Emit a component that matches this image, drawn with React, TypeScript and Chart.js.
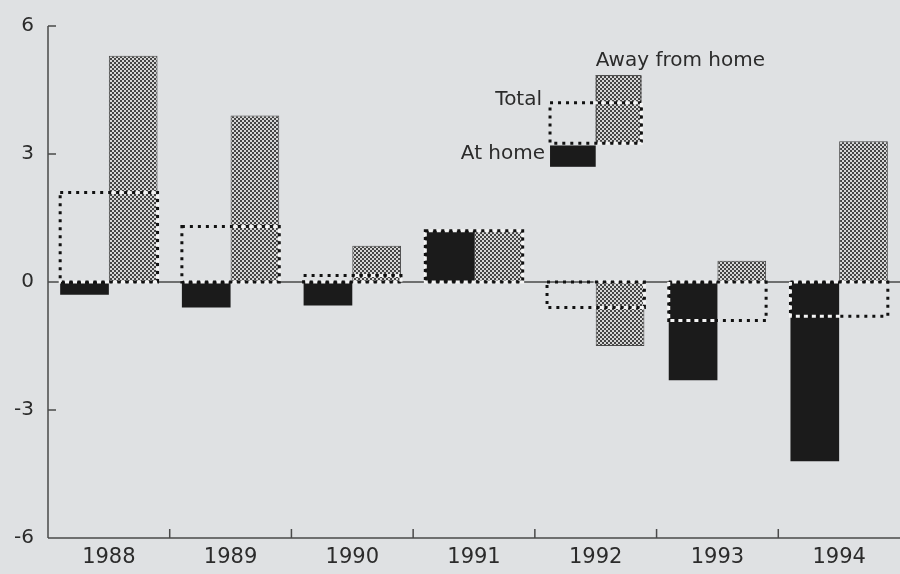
import React, { useEffect, useRef } from "react";
import { Chart, registerables } from "chart.js";

Chart.register(...registerables);

const categories = ["1988", "1989", "1990", "1991", "1992", "1993", "1994"];
const atHome = [-0.3, -0.6, -0.55, 1.2, 0, -2.3, -4.2];
const awayFromHome = [5.3, 3.9, 0.85, 1.2, -1.5, 0.5, 3.3];
const total = [2.1, 1.3, 0.15, 1.2, -0.6, -0.9, -0.8];
const yTicks = [-6, -3, 0, 3, 6];

// key drawn inside the plot, above the 1992 group
const legendCategoryIndex = 4;
const legendAtHomeRange = [2.7, 3.2];
const legendAwayRange = [3.25, 4.85];
const legendTotalRange = [3.25, 4.2];
const legendLabels = { atHome: "At home", away: "Away from home", total: "Total" };

const BG = "#dfe1e3";
const INK = "#2b2b2b";
const AXIS = "#4a4a4a";
const BLACK = "#1b1b1b";
const FONT = "'DejaVu Sans', sans-serif";

function makePattern(): CanvasPattern | string {
  const c = document.createElement("canvas");
  c.width = 4;
  c.height = 4;
  const g = c.getContext("2d");
  if (!g) return "#888";
  g.fillStyle = "#d6d6d6";
  g.fillRect(0, 0, 4, 4);
  g.fillStyle = "#444444";
  g.fillRect(0, 0, 2, 2);
  g.fillRect(2, 2, 2, 2);
  const p = g.createPattern(c, "repeat");
  return p || "#888";
}

type R = { l: number; r: number; t: number; b: number };

function rectOf(el: any): R {
  const p = el.getProps(["x", "y", "base", "width"], true);
  return {
    l: p.x - p.width / 2,
    r: p.x + p.width / 2,
    t: Math.min(p.y, p.base),
    b: Math.max(p.y, p.base),
  };
}

function dashedRect(ctx: CanvasRenderingContext2D, r: R, clips: R[]) {
  ctx.save();
  ctx.lineWidth = 3;
  ctx.setLineDash([3, 5]);
  ctx.strokeStyle = "#111";
  ctx.strokeRect(r.l, r.t, r.r - r.l, r.b - r.t);
  ctx.beginPath();
  for (const c of clips) {
    if (c.b - c.t < 0.5) continue;
    ctx.rect(c.l - 2, c.t - 2, c.r - c.l + 4, c.b - c.t + 4);
  }
  ctx.clip();
  ctx.strokeStyle = "#f4f4f4";
  ctx.setLineDash([4, 4]);
  ctx.lineDashOffset = -3.5;
  ctx.strokeRect(r.l, r.t, r.r - r.l, r.b - r.t);
  ctx.restore();
}

export default function App() {
  const ref = useRef<HTMLCanvasElement | null>(null);

  useEffect(() => {
    document.body.style.margin = "0";
    document.body.style.background = BG;
    const canvas = ref.current;
    if (!canvas) return;
    const pattern = makePattern();

    const axesPlugin = {
      id: "axesPlugin",
      beforeDatasetsDraw(chart: any) {
        const { ctx, chartArea: a, scales } = chart;
        const x = scales.x;
        const y = scales.y;
        ctx.save();
        ctx.strokeStyle = AXIS;
        ctx.lineWidth = 1.5;
        ctx.beginPath();
        ctx.moveTo(a.left, a.top);
        ctx.lineTo(a.left, a.bottom);
        ctx.moveTo(a.left, a.bottom);
        ctx.lineTo(a.right, a.bottom);
        const y0 = y.getPixelForValue(0);
        ctx.moveTo(a.left, y0);
        ctx.lineTo(a.right, y0);
        for (const v of yTicks) {
          if (v === 0 || v === -6) continue;
          const py = y.getPixelForValue(v);
          ctx.moveTo(a.left, py);
          ctx.lineTo(a.left + 8, py);
        }
        for (let i = 0; i < categories.length - 1; i++) {
          const px = (x.getPixelForValue(i) + x.getPixelForValue(i + 1)) / 2;
          ctx.moveTo(px, a.bottom);
          ctx.lineTo(px, a.bottom - 9);
        }
        ctx.stroke();
        ctx.restore();
      },
      afterDatasetsDraw(chart: any) {
        const { ctx, scales } = chart;
        const y = scales.y;
        const totalMeta = chart.getDatasetMeta(0);
        const homeMeta = chart.getDatasetMeta(1);
        const awayMeta = chart.getDatasetMeta(2);
        const barRects: R[] = [
          ...homeMeta.data.map(rectOf),
          ...awayMeta.data.map(rectOf),
        ];
        totalMeta.data.forEach((el: any) => {
          dashedRect(ctx, rectOf(el), barRects);
        });

        const hr = rectOf(homeMeta.data[legendCategoryIndex]);
        const ar = rectOf(awayMeta.data[legendCategoryIndex]);
        const tr = rectOf(totalMeta.data[legendCategoryIndex]);
        const inset = 3;
        const homeBox: R = {
          l: hr.l + inset,
          r: hr.r,
          t: y.getPixelForValue(legendAtHomeRange[1]),
          b: y.getPixelForValue(legendAtHomeRange[0]),
        };
        const awayBox: R = {
          l: ar.l,
          r: ar.r - inset,
          t: y.getPixelForValue(legendAwayRange[1]),
          b: y.getPixelForValue(legendAwayRange[0]),
        };
        const totalBox: R = {
          l: tr.l + inset,
          r: tr.r - inset,
          t: y.getPixelForValue(legendTotalRange[1]),
          b: y.getPixelForValue(legendTotalRange[0]),
        };
        ctx.save();
        ctx.fillStyle = BLACK;
        ctx.fillRect(homeBox.l, homeBox.t, homeBox.r - homeBox.l, homeBox.b - homeBox.t);
        ctx.fillStyle = pattern;
        ctx.fillRect(awayBox.l, awayBox.t, awayBox.r - awayBox.l, awayBox.b - awayBox.t);
        ctx.strokeStyle = AXIS;
        ctx.lineWidth = 1;
        ctx.strokeRect(awayBox.l + 0.5, awayBox.t + 0.5, awayBox.r - awayBox.l - 1, awayBox.b - awayBox.t - 1);
        ctx.restore();
        dashedRect(ctx, totalBox, [awayBox]);

        ctx.save();
        ctx.fillStyle = INK;
        ctx.font = `20px ${FONT}`;
        ctx.textAlign = "left";
        ctx.textBaseline = "alphabetic";
        ctx.fillText(legendLabels.away, awayBox.l, awayBox.t - 9);
        ctx.textAlign = "right";
        ctx.textBaseline = "middle";
        ctx.fillText(legendLabels.total, totalBox.l - 8, totalBox.t - 3);
        ctx.fillText(legendLabels.atHome, homeBox.l - 5, (homeBox.t + homeBox.b) / 2 - 2);
        ctx.restore();
      },
    };

    const chart = new Chart(canvas, {
      type: "bar",
      data: {
        labels: categories,
        datasets: [
          {
            label: legendLabels.total,
            data: total,
            grouped: false,
            backgroundColor: "rgba(0,0,0,0)",
            borderWidth: 0,
            categoryPercentage: 0.8,
            barPercentage: 1,
          } as any,
          {
            label: legendLabels.atHome,
            data: atHome,
            backgroundColor: BLACK,
            borderWidth: 0,
            categoryPercentage: 0.8,
            barPercentage: 1,
          },
          {
            label: legendLabels.away,
            data: awayFromHome,
            backgroundColor: pattern as any,
            borderColor: AXIS,
            borderWidth: 1,
            borderSkipped: false,
            categoryPercentage: 0.8,
            barPercentage: 1,
          },
        ],
      },
      options: {
        responsive: false,
        animation: false,
        devicePixelRatio: 1,
        layout: { padding: { top: 20, left: 0, right: 0, bottom: 0 } },
        plugins: {
          legend: { display: false },
          tooltip: { enabled: false },
          title: { display: false },
        },
        scales: {
          x: {
            grid: { display: false, drawTicks: false },
            border: { display: false },
            ticks: {
              padding: 7,
              color: INK,
              font: { family: FONT, size: 21 },
              maxRotation: 0,
            },
            afterFit: (s: any) => {
              s.height = 36;
            },
          },
          y: {
            min: -6,
            max: 6,
            afterBuildTicks: (s: any) => {
              s.ticks = yTicks.map((v) => ({ value: v }));
            },
            grid: { display: false, drawTicks: false },
            border: { display: false },
            ticks: {
              padding: 14,
              color: INK,
              font: { family: FONT, size: 20 },
              callback: (v: any) => String(v),
            },
            afterFit: (s: any) => {
              s.width = 48;
            },
          },
        },
      },
      plugins: [axesPlugin],
    });

    return () => chart.destroy();
  }, []);

  return (
    <div style={{ position: "fixed", left: 0, top: 0, width: 900, height: 574, background: BG }}>
      <canvas ref={ref} width={900} height={574} style={{ display: "block" }} />
    </div>
  );
}
